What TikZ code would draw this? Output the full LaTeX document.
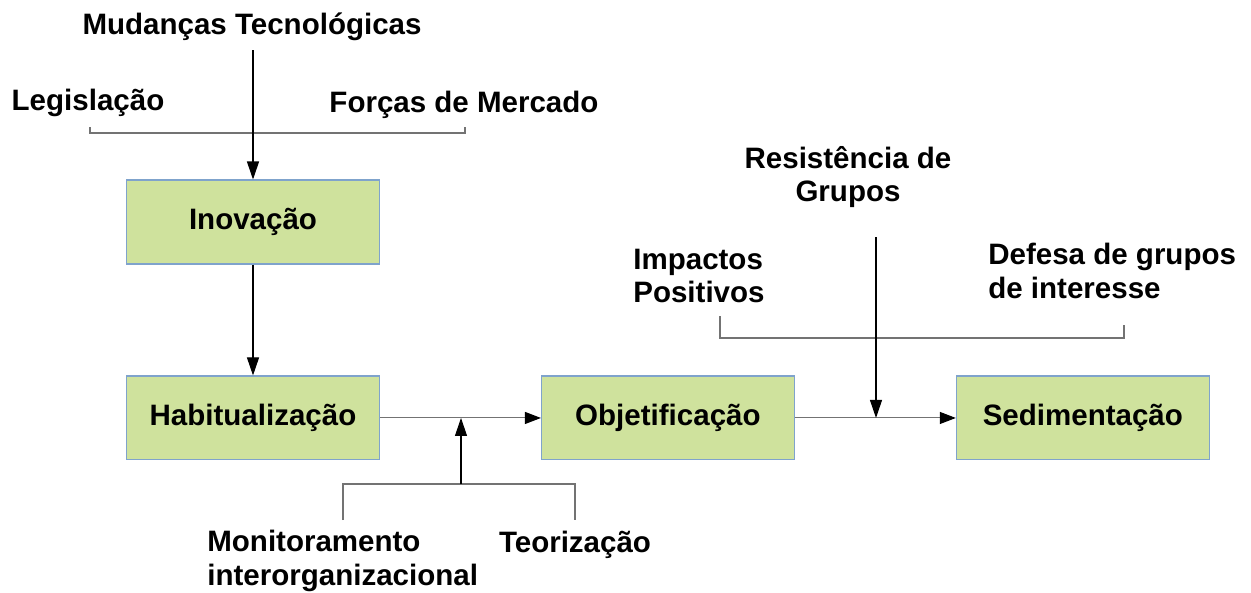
\documentclass[tikz,border=0pt]{standalone}
\usepackage{fontspec}
\setmainfont{Liberation Sans}
\usepackage{xcolor}
\usepackage{tikz}
\usetikzlibrary{positioning, arrows.meta}

\definecolor{boxgreen}{HTML}{CFE29D}
\definecolor{boxblue}{HTML}{7FA3CC}

\begin{document}
\begin{tikzpicture} [x=0.02cm, y=-0.02cm, node distance = 3.92cm and 8.3cm, on grid,
    font=\fontsize{16.8}{19}\selectfont\bfseries,
    etapa/.style = {draw=boxblue, fill=boxgreen, line width=0.6pt,
        minimum width=5.06cm, minimum height=1.68cm},
    rotulo/.style = {inner sep=0pt, align=left},
    arr/.style = {-{Triangle[length=0.36cm, width=0.24cm]}, line width=0.6pt},
    conn/.style = {-{Triangle[length=0.32cm, width=0.24cm, black]}, black!55, line width=0.6pt},
    brk/.style = {black!55, line width=0.6pt}]

    \useasboundingbox (0,0) rectangle (1251,592);

    % etapas
    \node (inov) [etapa] at (253,222) {Inovação};
    \node (habit) [etapa, below = of inov] {Habitualização};
    \node (objet) [etapa, right = of habit] {Objetificação};
    \node (sedim) [etapa, right = of objet] {Sedimentação};

    % fatores
    \node (mud) [rotulo] at (252,27) {Mudanças Tecnológicas};
    \node (leg) [rotulo] at (88,103) {Legislação};
    \node (forc) [rotulo] at (464,105) {Forças de Mercado};
    \node (resist) [rotulo, align=center] at (848,177) {Resistência de\\Grupos};
    \node (impac) [rotulo, anchor=west] at (633,276) {Impactos\\Positivos};
    \node (defesa) [rotulo, anchor=west] at (988,271) {Defesa de grupos\\de interesse};
    \node (monit) [rotulo, anchor=west] at (207,561) {Monitoramento\\interorganizacional};
    \node (teor) [rotulo] at (575,545) {Teorização};

    \coordinate (b1) at (90,127); \coordinate (b2) at (465,127);
    \coordinate (j1) at (253,133);
    \coordinate (m1) at (343,520); \coordinate (t1) at (575,520);
    \coordinate (j2) at (461,484);
    \coordinate (ip) at (720,316); \coordinate (df) at (1124,325);
    \coordinate (j3) at (876,338); \coordinate (r0) at (876,237);

    \draw [brk] (b1) |- (j1) -| (b2);
    \draw [arr] ([yshift=-0.18cm]mud.south -| inov.north) -- (inov);
    \draw [arr] (inov) -- (habit);

    \draw [conn] (habit) -- (objet);
    \draw [brk] (m1) |- (j2) -| (t1);
    \draw [arr] (j2) -- (j2 |- habit.east);

    \draw [conn] (objet) -- (sedim);
    \draw [brk] (ip) |- (j3) -| (df);
    \draw [arr] (r0) -- (r0 |- objet.east);

\end{tikzpicture}
\end{document}
